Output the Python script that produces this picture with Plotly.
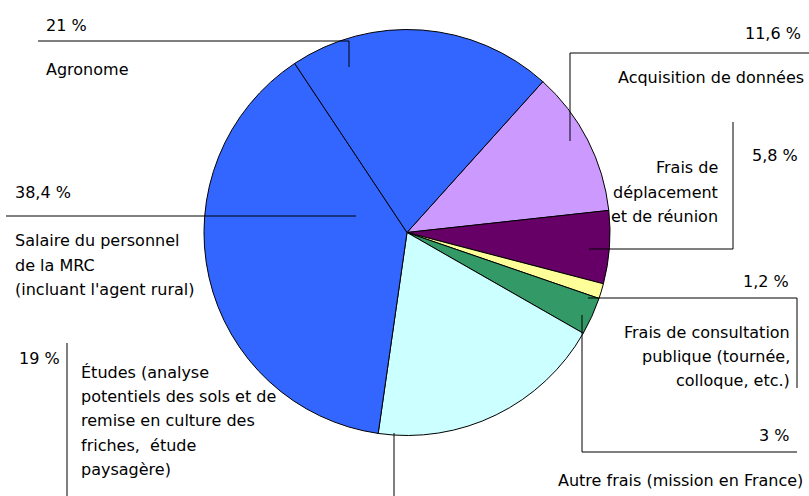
import plotly.graph_objects as go

# ===== 数据 =====
categories = [
    "Acquisition de données",
    "Frais de déplacement et de réunion",
    "Frais de consultation publique (tournée, colloque, etc.)",
    "Autre frais (mission en France)",
    "Études (analyse potentiels des sols et de remise en culture des friches, étude paysagère)",
    "Salaire du personnel de la MRC (incluant l'agent rural)",
    "Agronome",
]
values = [11.6, 5.8, 1.2, 3, 19, 38.4, 21]
label_lines = [
    ["Acquisition de données"],
    ["Frais de", "déplacement", "et de réunion"],
    ["Frais de consultation", "publique (tournée,", "colloque, etc.)"],
    ["Autre frais (mission en France)"],
    ["Études (analyse", "potentiels des sols et de", "remise en culture des", "friches,  étude", "paysagère)"],
    ["Salaire du personnel", "de la MRC", "(incluant l'agent rural)"],
    ["Agronome"],
]
slice_colors = ["#CC99FF", "#660066", "#FFFF99", "#339966", "#CCFFFF", "#3366FF", "#3366FF"]

W, H = 809, 496
FONT = "DejaVu Sans"
FS = 16
LINE_H = 24.4

# ===== 标签布局 (像素) =====
# pct: (x, y, anchor) ; text: (x, y_first_line, anchor)
label_pos = [
    ((803, 33, "right"), (806, 77, "right")),
    ((800, 156, "right"), (720, 168, "right")),
    ((791, 281, "right"), (792, 332, "right")),
    ((791, 435, "right"), (805, 480, "right")),
    ((62, 358, "right"), (79, 372, "left")),
    ((13, 192, "left"), (13, 241, "left")),
    ((44, 25, "left"), (44, 69, "left")),
]
leader_lines = [
    [(570, 141), (570, 53), (812, 53)],
    [(589, 249), (733, 249), (733, 122)],
    [(588, 298), (797, 298), (797, 388)],
    [(582, 315), (582, 452), (797, 452)],
    [(394, 433), (394, 500)],
    [(6, 216), (356, 216)],
    [(38, 41), (349, 41), (349, 67)],
]
leader_lines.append([(67, 343), (67, 500)])

CX, CY, R = 407, 232.5, 203


def px(x):
    return x / W


def py(y):
    return 1 - y / H


def fmt_pct(v):
    return f"{v:g}".replace(".", ",") + " %"


fig = go.Figure()
fig.add_trace(go.Pie(
    labels=categories,
    values=values,
    sort=False,
    direction="clockwise",
    rotation=42,
    marker=dict(colors=slice_colors, line=dict(color="black", width=1)),
    textinfo="none",
    hoverinfo="label+percent",
    showlegend=False,
    domain=dict(x=[px(CX - R), px(CX + R)], y=[py(CY + R), py(CY - R)]),
))

annotations = []
for v, lines, (pct_pos, txt_pos) in zip(values, label_lines, label_pos):
    x, y, anc = pct_pos
    annotations.append(dict(
        x=px(x), y=py(y), xref="paper", yref="paper", text=fmt_pct(v),
        showarrow=False, xanchor=anc, yanchor="middle",
        font=dict(family=FONT, size=FS, color="black"),
    ))
    x, y, anc = txt_pos
    for i, line in enumerate(lines):
        annotations.append(dict(
            x=px(x), y=py(y + i * LINE_H), xref="paper", yref="paper", text=line,
            showarrow=False, xanchor=anc, yanchor="middle",
            font=dict(family=FONT, size=FS, color="black"),
        ))

shapes = []
for pts in leader_lines:
    for (x0, y0), (x1, y1) in zip(pts[:-1], pts[1:]):
        shapes.append(dict(
            type="line", xref="paper", yref="paper",
            x0=px(x0), y0=py(y0), x1=px(x1), y1=py(y1),
            line=dict(color="black", width=1),
        ))

fig.update_layout(
    width=W, height=H,
    margin=dict(l=0, r=0, t=0, b=0),
    paper_bgcolor="white", plot_bgcolor="white",
    annotations=annotations,
    shapes=shapes,
)

# 去掉页面 body 默认边距，使画布与窗口对齐
fig.write_html(
    "out.html",
    config={"displayModeBar": False},
    post_script="document.body.style.margin='0';document.body.style.overflow='hidden';",
)
